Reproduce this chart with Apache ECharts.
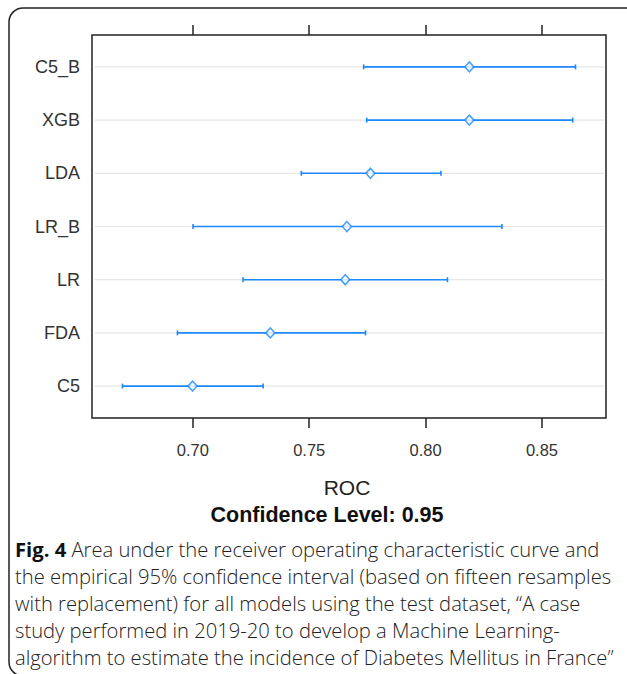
<!DOCTYPE html>
<html>
<head>
<meta charset="utf-8">
<script src="https://cdn.jsdelivr.net/npm/echarts@6/dist/echarts.min.js"></script>
<style>
html,body{margin:0;padding:0;background:#fff;}
#chart{width:627px;height:674px;}
</style>
</head>
<body>
<div id="chart"></div>
<script>
// Data (bottom to top)
const models = ['C5', 'FDA', 'LR', 'LR_B', 'LDA', 'XGB', 'C5_B'];
const rocMean = [0.6999, 0.7333, 0.7655, 0.7662, 0.7763, 0.8188, 0.8188];
const rocLower = [0.6698, 0.6934, 0.7216, 0.7001, 0.7466, 0.7747, 0.7734];
const rocUpper = [0.7302, 0.7742, 0.8094, 0.8328, 0.8066, 0.8632, 0.8644];
const xTicks = [0.70, 0.75, 0.80, 0.85];
const captionLines = [
  'Area under the receiver operating characteristic curve and',
  'the empirical 95% confidence interval (based on fifteen resamples',
  'with replacement) for all models using the test dataset, \u201cA case',
  'study performed in 2019-20 to develop a Machine Learning-',
  'algorithm to estimate the incidence of Diabetes Mellitus in France\u201d'
];

const blue = '#1e88ff';
const idx = models.map((m, i) => i);

const chart = echarts.init(document.getElementById('chart'), null, {renderer: 'svg'});

const barData = models.map((m, i) => [rocLower[i], rocUpper[i], i]);
const refData = models.map((m, i) => [i]);
const ptData = models.map((m, i) => [rocMean[i], i]);

const labelFont = 'Liberation Sans, Arial, sans-serif';

chart.setOption({
  animation: false,
  backgroundColor: '#fff',
  grid: {left: 92, top: 35, right: 21, bottom: 256, show: true, borderColor: '#222', borderWidth: 1.5, backgroundColor: 'transparent'},
  xAxis: [{
    type: 'value', position: 'bottom', min: 0.6567, max: 0.8775,
    axisLine: {show: false, onZero: false},
    splitLine: {show: false},
    axisTick: {show: true, customValues: xTicks, length: 10, inside: false, lineStyle: {color: '#222', width: 1.5}},
    axisLabel: {customValues: xTicks, margin: 23, fontSize: 16.5, color: '#333', fontFamily: labelFont, formatter: v => v.toFixed(2)}
  }, {
    type: 'value', position: 'top', min: 0.6567, max: 0.8775,
    axisLine: {show: false, onZero: false},
    splitLine: {show: false},
    axisTick: {show: true, customValues: xTicks, length: 10, inside: false, lineStyle: {color: '#222', width: 1.5}},
    axisLabel: {show: false}
  }],
  yAxis: {
    type: 'value', min: -0.6, max: 6.6,
    axisLine: {show: false, onZero: false},
    splitLine: {show: false},
    axisTick: {show: false},
    axisLabel: {customValues: idx, margin: 12, fontSize: 18, color: '#333', fontFamily: labelFont, formatter: v => models[Math.round(v)]}
  },
  series: [{
    type: 'custom',
    data: refData,
    encode: {y: 0},
    silent: true,
    renderItem: function (params, api) {
      const cs = params.coordSys;
      const y = api.coord([0.7, api.value(0)])[1];
      return {type: 'line', shape: {x1: cs.x + 3, y1: y, x2: cs.x + cs.width - 2, y2: y}, style: {stroke: '#e6e6e6', lineWidth: 1.2}};
    }
  }, {
    type: 'custom',
    data: barData,
    encode: {x: [0, 1], y: 2},
    renderItem: function (params, api) {
      const p1 = api.coord([api.value(0), api.value(2)]);
      const p2 = api.coord([api.value(1), api.value(2)]);
      const h = 2.5;
      const st = {stroke: blue, lineWidth: 1.6};
      return {type: 'group', children: [
        {type: 'line', shape: {x1: p1[0], y1: p1[1], x2: p2[0], y2: p2[1]}, style: st},
        {type: 'line', shape: {x1: p1[0], y1: p1[1] - h, x2: p1[0], y2: p1[1] + h}, style: st},
        {type: 'line', shape: {x1: p2[0], y1: p2[1] - h, x2: p2[0], y2: p2[1] + h}, style: st}
      ]};
    }
  }, {
    type: 'scatter',
    data: ptData,
    symbol: 'diamond',
    symbolSize: [9, 10],
    itemStyle: {color: '#fff', borderColor: blue, borderWidth: 1.6},
    z: 5
  }],
  graphic: [{
    type: 'rect',
    shape: {x: 9, y: 8, width: 640, height: 668, r: 14},
    style: {fill: 'none', stroke: '#222', lineWidth: 1.5},
    silent: true, z: -1
  }, {
    type: 'text', x: 347, y: 487,
    style: {text: 'ROC', fontSize: 21, fill: '#222', fontFamily: labelFont, align: 'center', verticalAlign: 'middle'}
  }, {
    type: 'text', x: 327, y: 515,
    style: {text: 'Confidence Level: 0.95', fontSize: 21.5, fontWeight: 'bold', fill: '#111', fontFamily: labelFont, align: 'center', verticalAlign: 'middle'}
  }, {
    type: 'text', x: 15, y: 536,
    style: {
      text: '{b|Fig. 4} ' + captionLines.join('\n'),
      fontSize: 20.2, lineHeight: 26.8, fill: '#222', fontFamily: 'Open Sans, sans-serif', fontWeight: 300,
      rich: {b: {fontWeight: 'bold', fontSize: 20.2, lineHeight: 26.8, fontFamily: 'Open Sans, sans-serif', fill: '#111'}}
    }
  }]
});
</script>
</body>
</html>
